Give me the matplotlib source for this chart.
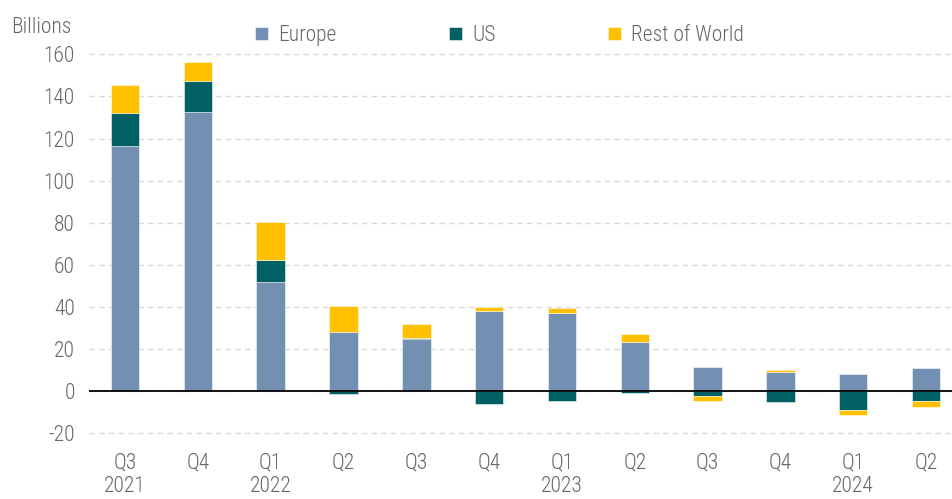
import matplotlib
matplotlib.use("Agg")
import matplotlib.pyplot as plt
import numpy as np

quarters = ["Q3", "Q4", "Q1", "Q2", "Q3", "Q4", "Q1", "Q2", "Q3", "Q4", "Q1", "Q2"]
years = ["2021", "", "2022", "", "", "", "2023", "", "", "", "2024", ""]
europe = [116.6, 132.6, 51.9, 28.3, 24.8, 38.1, 37.3, 23.6, 11.7, 9.3, 8.1, 11.2]
us = [15.5, 14.6, 10.4, -1.5, 0.6, -6.0, -4.7, -0.6, -2.2, -5.1, -9.0, -4.6]
row = [13.3, 9.3, 17.9, 12.1, 6.6, 1.9, 2.2, 3.6, -2.4, 0.8, -2.2, -2.7]
series_names = ["Europe", "US", "Rest of World"]
colors = ["#7390b3", "#006064", "#ffc000"]
yticks = [-20, 0, 20, 40, 60, 80, 100, 120, 140, 160]

plt.rcParams['font.family'] = ['Roboto Condensed', 'DejaVu Sans']
plt.rcParams['font.weight'] = 'light'
txt = "#666666"
FS = 15.5

fig = plt.figure(figsize=(9.53, 4.99), dpi=100)
ax = fig.add_axes([0.093, 0.1104, 0.907, 0.8018])

x = np.arange(len(quarters))
pos = np.zeros(len(x))
neg = np.zeros(len(x))
handles = []
for vals, name, c in zip([europe, us, row], series_names, colors):
    v = np.array(vals)
    bottom = np.where(v >= 0, pos, neg)
    h = ax.bar(x, v, 0.39, bottom=bottom, color=c, edgecolor=(1, 1, 1, 0.6),
               linewidth=0.6, label=name, zorder=3)
    handles.append(h)
    pos = pos + np.where(v >= 0, v, 0)
    neg = neg + np.where(v < 0, v, 0)

ax.set_xlim(-0.5, 11.37)
ax.set_ylim(-25, 165)
ax.set_yticks(yticks)
ax.set_yticklabels([str(t) for t in yticks], fontsize=FS, color=txt)
ax.set_xticks(x)
ax.set_xticklabels([q + ("\n" + y if y else "") for q, y in zip(quarters, years)],
                   fontsize=FS, color=txt, va='top', linespacing=1.15)
ax.tick_params(axis='y', length=0, pad=10)
ax.tick_params(axis='x', length=0, pad=6)
for s in ax.spines.values():
    s.set_visible(False)
ax.grid(axis='y', color='#d9d9d9', linestyle=(0, (4, 3)), linewidth=1, zorder=0)
ax.axhline(0, color='black', linewidth=1.3, zorder=4)

fig.text(0.012, 0.945, "Billions", fontsize=FS, color=txt, va='center', ha='left')

leg = fig.legend(handles=handles, labels=series_names, loc='center',
                 bbox_to_anchor=(0.524, 0.929), ncol=3, frameon=False,
                 fontsize=FS, handlelength=0.6, handleheight=0.6,
                 columnspacing=5.2, handletextpad=0.5)
for t in leg.get_texts():
    t.set_color(txt)

fig.savefig("out.png", dpi=100)
